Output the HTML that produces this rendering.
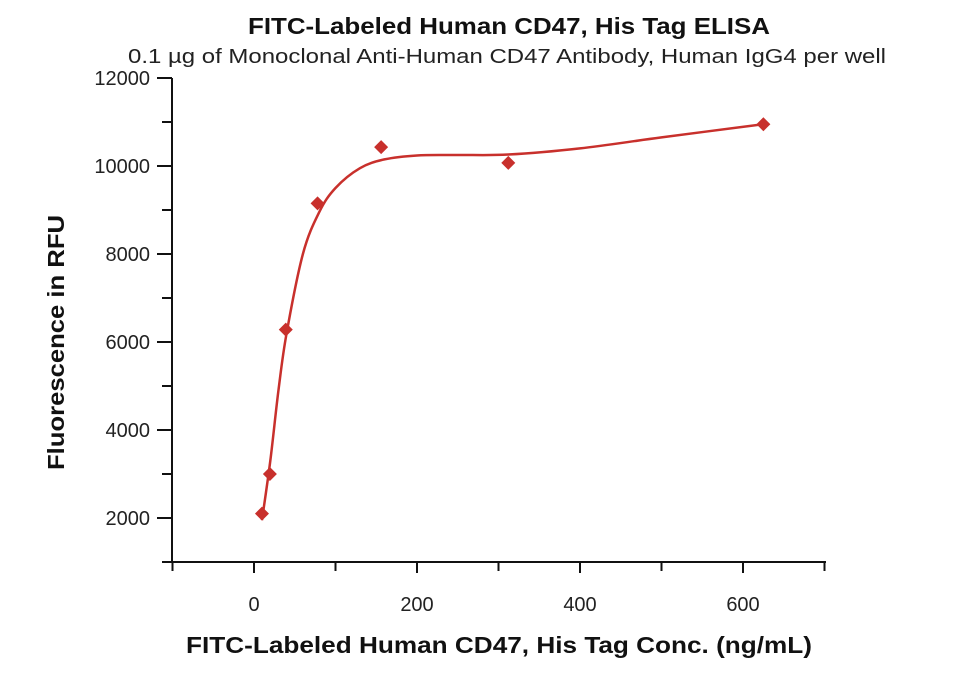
<!DOCTYPE html>
<html><head><meta charset="utf-8"><style>
body{margin:0;background:#fff;}
svg text{font-family:"Liberation Sans",sans-serif;}
</style></head><body>
<svg id="chart" width="960" height="674" xmlns="http://www.w3.org/2000/svg">
<text x="248" y="34" textLength="522" lengthAdjust="spacingAndGlyphs" font-size="23" font-weight="bold" fill="#111">FITC-Labeled Human CD47, His Tag ELISA</text>
<text x="128" y="63" textLength="758" lengthAdjust="spacingAndGlyphs" font-size="20" fill="#222">0.1 µg of Monoclonal Anti-Human CD47 Antibody, Human IgG4 per well</text>
<text x="186" y="653" textLength="626" lengthAdjust="spacingAndGlyphs" font-size="23" font-weight="bold" fill="#111">FITC-Labeled Human CD47, His Tag Conc. (ng/mL)</text>
<text transform="translate(64,470) rotate(-90)" textLength="255" lengthAdjust="spacingAndGlyphs" font-size="23" font-weight="bold" fill="#111">Fluorescence in RFU</text>
<g id="axes"></g><g id="marks"></g>
</svg>
<script>
const xs=[9.77,19.5,39,78,156,312,625];
const ys=[2100,3000,6280,9150,10430,10070,10950];
const fitX=[9.77,20,30,40,60,80,100,130,160,200,250,312,400,500,625];
const fitY=[1950,3300,4900,6200,8000,8950,9500,9950,10150,10240,10250,10260,10400,10650,10950];
const xTicks=[0,200,400,600];
const yTicks=[2000,4000,6000,8000,10000,12000];
const X=v=>254+(v-0)*(743-254)/600;
const Y=v=>562-(v-1000)*(562-78)/11000;
const NS="http://www.w3.org/2000/svg";
const ax=document.getElementById('axes'),mk=document.getElementById('marks');
function el(t,a,p){const e=document.createElementNS(NS,t);for(const k in a)e.setAttribute(k,a[k]);p.appendChild(e);return e;}
let l=el('line',{x1:165,y1:562,x2:826,y2:562,stroke:'#111','stroke-width':2},ax);


l=el('line',{x1:172,y1:78,x2:172,y2:563,stroke:'#111','stroke-width':2},ax);


for(let v=-100;v<=700;v+=100){const t=el('line',{x1:X(v),y1:562,x2:X(v),y2:v%200===0?573:571,stroke:'#111','stroke-width':2},ax);

}
xTicks.forEach(v=>{const t=el('text',{x:X(v),y:611,'text-anchor':'middle','font-size':20,fill:'#222'},ax);t.textContent=v;

});
for(let v=1000;v<=12000;v+=1000){const t=el('line',{x1:v%2000===0?157:162,y1:Y(v),x2:172,y2:Y(v),stroke:'#111','stroke-width':2},ax);

}
yTicks.forEach(v=>{const t=el('text',{x:150,y:Y(v)+7,'text-anchor':'end','font-size':20,fill:'#222'},ax);t.textContent=v;

});
const P=fitX.map((x,i)=>[X(x),Y(fitY[i])]);
let d='M'+P[0][0]+','+P[0][1];
for(let i=0;i<P.length-1;i++){const p0=P[Math.max(0,i-1)],p1=P[i],p2=P[i+1],p3=P[Math.min(P.length-1,i+2)];
d+=' C'+(p1[0]+(p2[0]-p0[0])/6)+','+(p1[1]+(p2[1]-p0[1])/6)+' '+(p2[0]-(p3[0]-p1[0])/6)+','+(p2[1]-(p3[1]-p1[1])/6)+' '+p2[0]+','+p2[1];}
const c=el('path',{d:d,fill:'none',stroke:'#c8302c','stroke-width':2.5},mk);


xs.forEach((x,i)=>{const cx=X(x),cy=Y(ys[i]);const p=el('polygon',{points:`${cx},${cy-7} ${cx+7},${cy} ${cx},${cy+7} ${cx-7},${cy}`,fill:'#c8302c'},mk);

});
</script>
</body></html>
